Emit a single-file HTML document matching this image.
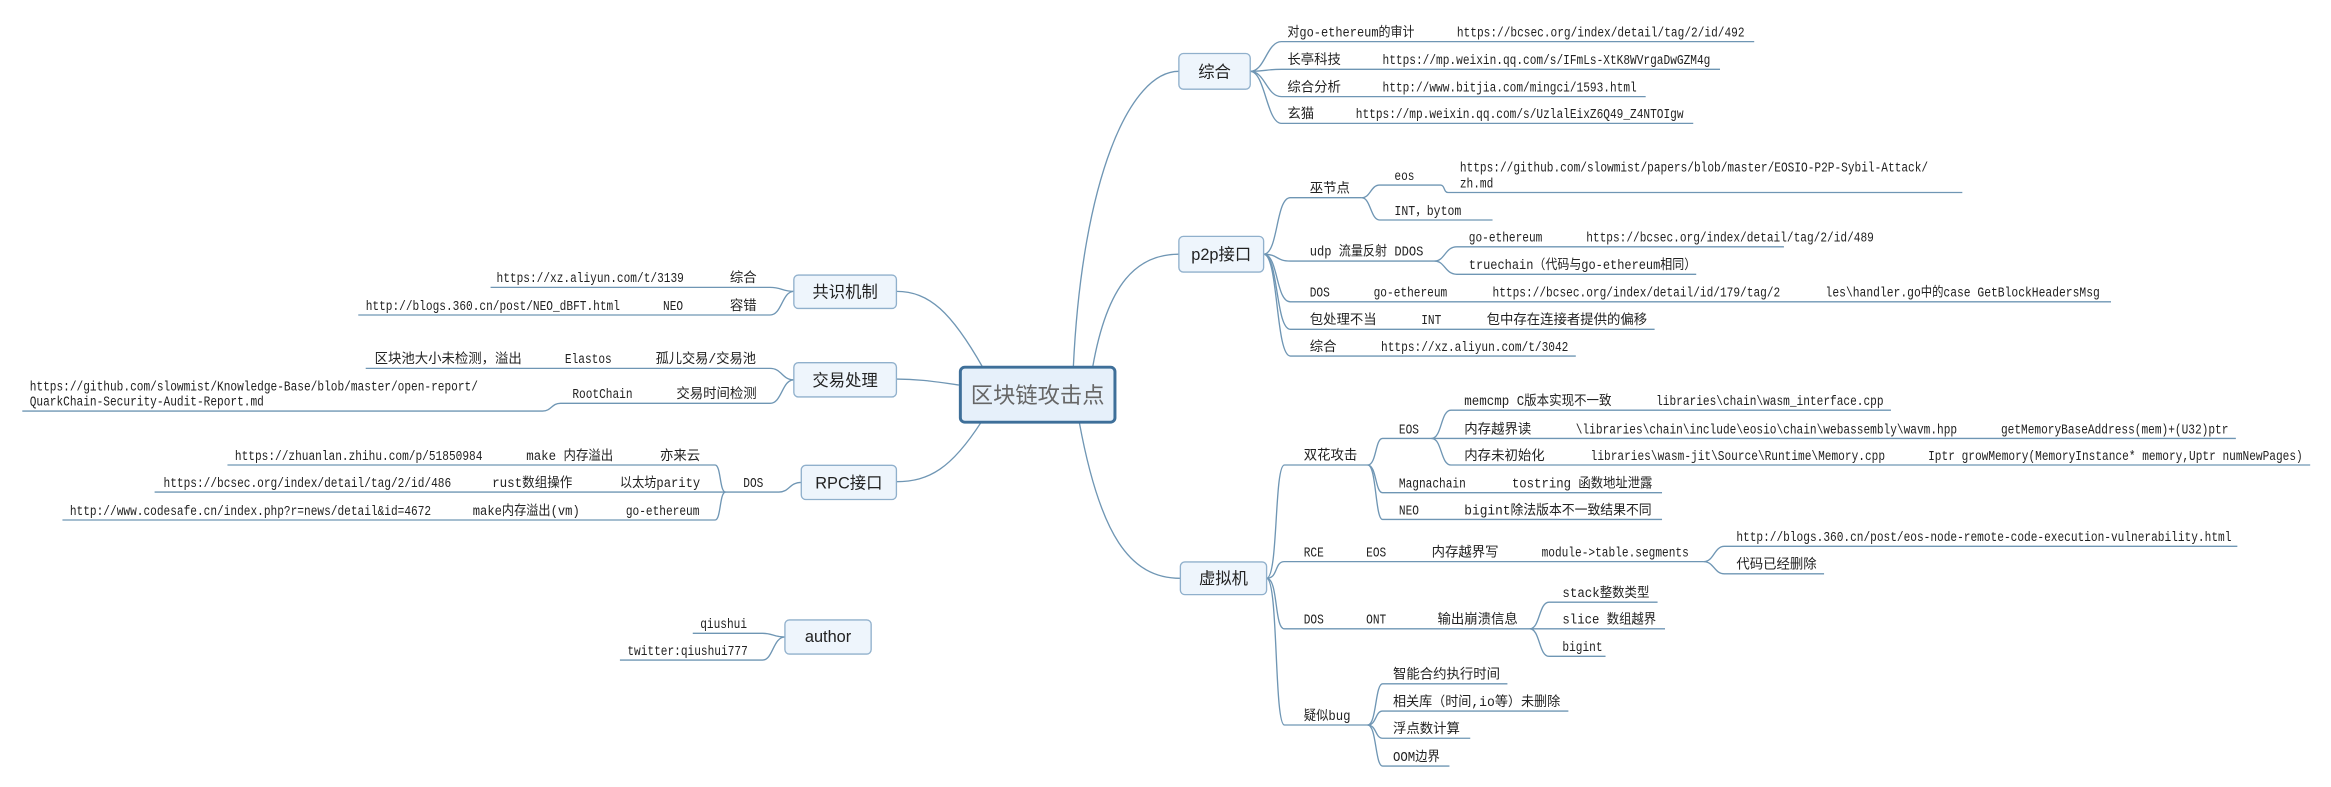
<!DOCTYPE html>
<html><head><meta charset="utf-8"><style>
html,body{margin:0;padding:0;background:#fff;}
svg{display:block;}
text{font-family:"Liberation Mono","Noto Sans CJK SC",monospace;font-size:9px;fill:#222;}
.b{font-family:"Liberation Sans","Noto Sans CJK SC",sans-serif;font-size:11px;text-anchor:middle;}
.c{font-family:"Liberation Sans","Noto Sans CJK SC",sans-serif;font-size:15px;text-anchor:middle;fill:#666;}
path{fill:none;stroke:#6f96b4;stroke-width:0.9;}
.box{fill:#eef5fc;stroke:#90b0cc;stroke-width:0.9;}
</style></head><body>
<svg width="2331" height="787" viewBox="0 0 1568 529.4" preserveAspectRatio="none" xmlns="http://www.w3.org/2000/svg">
<rect width="1568" height="529.4" fill="#fff"/>
<!-- central connectors -->
<path d="M722 247 C728 120 760 48 793 48"/>
<path d="M735 247 C745 190 765 171 793 171"/>
<path d="M726 284 C740 360 760 389 794 389"/>
<path d="M661 247 C640 210 625 196 603 196"/>
<path d="M645 259 C625 256 615 255 603 255"/>
<path d="M660 284 C640 315 625 324 603 324"/>

<!-- 综合 -->
<path d="M841 48 C851 48 852 28 862 28 H1180"/>
<path d="M841 48 C851 48 852 46.6 862 46.6 H1157"/>
<path d="M841 48 C851 48 852 65 862 65 H1107"/>
<path d="M841 48 C851 48 852 83 862 83 H1139"/>
<text class="t" x="866" y="24.5">对go-ethereum的审计</text><text class="t" x="980" y="24.5">https://bcsec.org/index/detail/tag/2/id/492</text>
<text class="t" x="866" y="43">长亭科技</text><text class="t" x="930" y="43">https://mp.weixin.qq.com/s/IFmLs-XtK8WVrgaDwGZM4g</text>
<text class="t" x="866" y="61.5">综合分析</text><text class="t" x="930" y="61.5">http://www.bitjia.com/mingci/1593.html</text>
<text class="t" x="866" y="79.5">玄猫</text><text class="t" x="912" y="79.5">https://mp.weixin.qq.com/s/UzlalEixZ6Q49_Z4NTOIgw</text>

<!-- p2p -->
<path d="M850 171 C860 171 858 133 868 133 H916"/>
<path d="M916 133 C922 133 922 124.5 928 124.5 H969 C972 124.5 971 129.5 974 129.5 H1320"/>
<path d="M916 133 C922 133 922 148 928 148 H1004"/>
<path d="M850 171 C860 171 858 175.6 868 175.6 H965"/>
<path d="M965 175.6 C972 175.6 972 166 980 166 H1200"/>
<path d="M965 175.6 C972 175.6 972 184.5 980 184.5 H1141"/>
<path d="M850 171 C860 171 858 203 868 203 H1420"/>
<path d="M850 171 C860 171 858 221.5 868 221.5 H1113"/>
<path d="M850 171 C860 171 858 239.5 868 239.5 H1060"/>
<text class="t" x="881" y="129.5">巫节点</text>
<text class="t" x="938" y="121">eos</text>
<text class="t" x="982" y="115.5">https://github.com/slowmist/papers/blob/master/EOSIO-P2P-Sybil-Attack/</text>
<text class="t" x="982" y="126">zh.md</text>
<text class="t" x="938" y="144.5">INT，bytom</text>
<text class="t" x="881" y="172">udp 流量反射 DDOS</text>
<text class="t" x="988" y="162.5">go-ethereum</text><text class="t" x="1067" y="162.5">https://bcsec.org/index/detail/tag/2/id/489</text>
<text class="t" x="988" y="181">truechain（代码与go-ethereum相同）</text>
<text class="t" x="881" y="199.5">DOS</text><text class="t" x="924" y="199.5">go-ethereum</text><text class="t" x="1004" y="199.5">https://bcsec.org/index/detail/id/179/tag/2</text><text class="t" x="1228" y="199.5">les\handler.go中的case GetBlockHeadersMsg</text>
<text class="t" x="881" y="218">包处理不当</text><text class="t" x="956" y="218">INT</text><text class="t" x="1000" y="218">包中存在连接者提供的偏移</text>
<text class="t" x="881" y="236">综合</text><text class="t" x="929" y="236">https://xz.aliyun.com/t/3042</text>

<!-- 虚拟机 -->
<path d="M852 389 C860 389 857 312.8 864 312.8 H920"/>
<path d="M920 312.8 C926 312.8 925 294.9 930 294.9 H963"/>
<path d="M963 294.9 C970 294.9 969 275.9 976 275.9 H1272"/>
<path d="M963 294.9 H1504"/>
<path d="M963 294.9 C970 294.9 969 312.8 976 312.8 H1554"/>
<path d="M920 312.8 C926 312.8 925 331.4 930 331.4 H1118"/>
<path d="M920 312.8 C926 312.8 925 349.4 930 349.4 H1118"/>
<path d="M852 389 C860 389 857 377.8 864 377.8 H1146"/>
<path d="M1146 377.8 C1153 377.8 1153 367.5 1160 367.5 H1505"/>
<path d="M1146 377.8 C1153 377.8 1153 386 1160 386 H1227"/>
<path d="M852 389 C860 389 857 423 864 423 H1029"/>
<path d="M1029 423 C1036 423 1035 405.1 1042 405.1 H1115"/>
<path d="M1029 423 H1120"/>
<path d="M1029 423 C1036 423 1035 441.5 1042 441.5 H1080"/>
<path d="M852 389 C860 389 857 487.7 864 487.7 H920"/>
<path d="M920 487.7 C926 487.7 925 460 930 460 H1014"/>
<path d="M920 487.7 C926 487.7 925 478.3 930 478.3 H1055"/>
<path d="M920 487.7 C926 487.7 925 496.6 930 496.6 H989"/>
<path d="M920 487.7 C926 487.7 925 515.3 930 515.3 H975"/>
<text class="t" x="877" y="309">双花攻击</text>
<text class="t" x="941" y="291.5">EOS</text>
<text class="t" x="985" y="272.5">memcmp C版本实现不一致</text><text class="t" x="1114" y="272.5">libraries\chain\wasm_interface.cpp</text>
<text class="t" x="985" y="291.5">内存越界读</text><text class="t" x="1060" y="291.5">\libraries\chain\include\eosio\chain\webassembly\wavm.hpp</text><text class="t" x="1346" y="291.5">getMemoryBaseAddress(mem)+(U32)ptr</text>
<text class="t" x="985" y="309.3">内存未初始化</text><text class="t" x="1070" y="309.3">libraries\wasm-jit\Source\Runtime\Memory.cpp</text><text class="t" x="1297" y="309.3">Iptr growMemory(MemoryInstance* memory,Uptr numNewPages)</text>
<text class="t" x="941" y="328">Magnachain</text><text class="t" x="1017" y="328">tostring 函数地址泄露</text>
<text class="t" x="941" y="346">NEO</text><text class="t" x="985" y="346">bigint除法版本不一致结果不同</text>
<text class="t" x="877" y="374.3">RCE</text><text class="t" x="919" y="374.3">EOS</text><text class="t" x="963" y="374.3">内存越界写</text><text class="t" x="1037" y="374.3">module-&gt;table.segments</text>
<text class="t" x="1168" y="364">http://blogs.360.cn/post/eos-node-remote-code-execution-vulnerability.html</text>
<text class="t" x="1168" y="382.5">代码已经删除</text>
<text class="t" x="877" y="419.5">DOS</text><text class="t" x="919" y="419.5">ONT</text><text class="t" x="967" y="419.5">输出崩溃信息</text>
<text class="t" x="1051" y="401.6">stack整数类型</text>
<text class="t" x="1051" y="419.5">slice 数组越界</text>
<text class="t" x="1051" y="438">bigint</text>
<text class="t" x="877" y="484.2">疑似bug</text>
<text class="t" x="937" y="456.5">智能合约执行时间</text>
<text class="t" x="937" y="474.8">相关库（时间,io等）未删除</text>
<text class="t" x="937" y="493.1">浮点数计算</text>
<text class="t" x="937" y="511.8">OOM边界</text>

<!-- 共识机制 -->
<path d="M534 196 C526 196 526 193.3 518 193.3 H330"/>
<path d="M534 196 C526 196 526 211.9 518 211.9 H241"/>
<text class="t" x="334" y="189.8">https://xz.aliyun.com/t/3139</text><text class="t" x="491" y="189.8">综合</text>
<text class="t" x="246" y="208.4">http://blogs.360.cn/post/NEO_dBFT.html</text><text class="t" x="446" y="208.4">NEO</text><text class="t" x="491" y="208.4">容错</text>

<!-- 交易处理 -->
<path d="M534 255.5 C526 255.5 526 247.8 518 247.8 H246"/>
<path d="M534 255.5 C526 255.5 526 271.3 518 271.3 H377 C371 271.3 371 276.5 365 276.5 H15"/>
<text class="t" x="252" y="244.3">区块池大小未检测，溢出</text><text class="t" x="380" y="244.3">Elastos</text><text class="t" x="441" y="244.3">孤儿交易/交易池</text>
<text class="t" x="20" y="262.8">https://github.com/slowmist/Knowledge-Base/blob/master/open-report/</text>
<text class="t" x="20" y="272.9">QuarkChain-Security-Audit-Report.md</text>
<text class="t" x="385" y="267.8">RootChain</text><text class="t" x="455" y="267.8">交易时间检测</text>

<!-- RPC -->
<path d="M539 324.5 C531 324.5 531 331 524 331 H488"/>
<path d="M488 331 C484 331 485 312.8 481 312.8 H153"/>
<path d="M488 331 H104"/>
<path d="M488 331 C484 331 485 349.8 481 349.8 H42"/>
<text class="t" x="500" y="327.5">DOS</text>
<text class="t" x="158" y="309.3">https://zhuanlan.zhihu.com/p/51850984</text><text class="t" x="354" y="309.3">make 内存溢出</text><text class="t" x="444" y="309.3">亦来云</text>
<text class="t" x="110" y="327.5">https://bcsec.org/index/detail/tag/2/id/486</text><text class="t" x="331" y="327.5">rust数组操作</text><text class="t" x="417" y="327.5">以太坊parity</text>
<text class="t" x="47" y="346.3">http://www.codesafe.cn/index.php?r=news/detail&amp;id=4672</text><text class="t" x="318" y="346.3">make内存溢出(vm)</text><text class="t" x="421" y="346.3">go-ethereum</text>

<!-- author -->
<path d="M528 428.5 C520 428.5 520 426 513 426 H466"/>
<path d="M528 428.5 C520 428.5 520 444 513 444 H417"/>
<text class="t" x="471" y="422.5">qiushui</text>
<text class="t" x="422" y="440.5">twitter:qiushui777</text>

<!-- boxes -->
<rect class="box" x="793" y="36" width="48" height="24" rx="3"/><text class="b" x="817" y="52">综合</text>
<rect class="box" x="793" y="159" width="57" height="24" rx="3"/><text class="b" x="821.5" y="175">p2p接口</text>
<rect class="box" x="794" y="378" width="58" height="22" rx="3"/><text class="b" x="823" y="393">虚拟机</text>
<rect class="box" x="534" y="185" width="69" height="22.5" rx="3"/><text class="b" x="568.5" y="200">共识机制</text>
<rect class="box" x="534" y="244" width="69" height="23" rx="3"/><text class="b" x="568.5" y="259.5">交易处理</text>
<rect class="box" x="539" y="313" width="64" height="23" rx="3"/><text class="b" x="571" y="328.5">RPC接口</text>
<rect class="box" x="528" y="417" width="58" height="23" rx="3"/><text class="b" x="557" y="432">author</text>
<rect x="646" y="247" width="104" height="37" rx="3" fill="#e6f0fa" stroke="#3e6f99" stroke-width="2"/>
<text class="c" x="698" y="271">区块链攻击点</text>
</svg>
<script>
document.querySelectorAll('text.t').forEach(function(t){
  var s=t.textContent,w=0;
  for(var i=0;i<s.length;i++){w+=s.charCodeAt(i)<128?4.5:9;}
  t.setAttribute('textLength',w);
  t.setAttribute('lengthAdjust','spacingAndGlyphs');
});
</script>
</body></html>
